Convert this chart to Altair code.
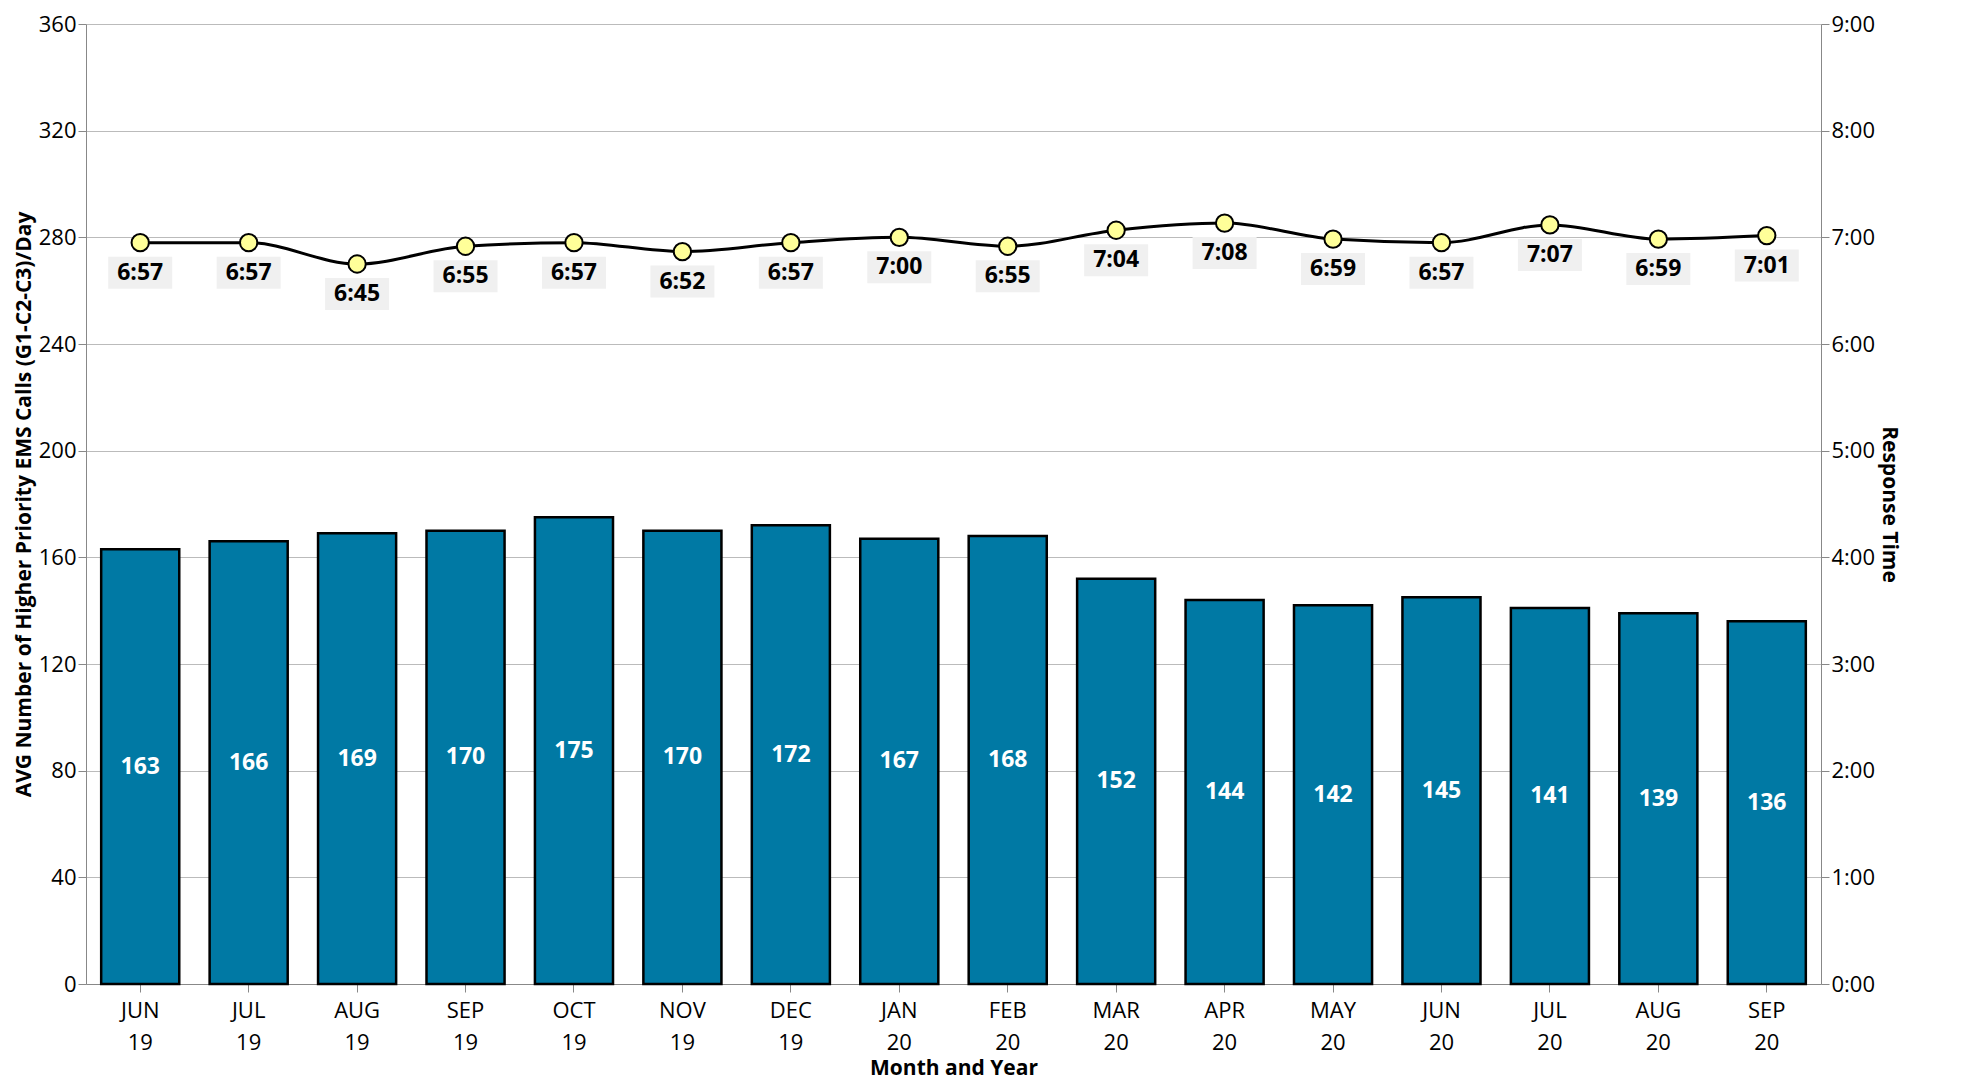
import altair as alt
import pandas as pd

months = ["JUN 19", "JUL 19", "AUG 19", "SEP 19", "OCT 19", "NOV 19", "DEC 19", "JAN 20",
          "FEB 20", "MAR 20", "APR 20", "MAY 20", "JUN 20", "JUL 20", "AUG 20", "SEP 20"]
calls = [163, 166, 169, 170, 175, 170, 172, 167, 168, 152, 144, 142, 145, 141, 139, 136]
resp_labels = ["6:57", "6:57", "6:45", "6:55", "6:57", "6:52", "6:57", "7:00",
               "6:55", "7:04", "7:08", "6:59", "6:57", "7:07", "6:59", "7:01"]

df = pd.DataFrame({"month": months, "calls": calls, "resp": resp_labels})
df["secs"] = [int(r.split(":")[0]) * 60 + int(r.split(":")[1]) for r in resp_labels]
df["bar_mid"] = df["calls"] / 2 - 0.0

FONT = "Open Sans"
x = alt.X("month:N", sort=months, title="Month and Year",
          scale=alt.Scale(paddingInner=0.28, paddingOuter=0.14),
          axis=alt.Axis(labelAngle=0, labelExpr="split(datum.label, ' ')", labelFontSize=22,
                        labelPadding=8, titleFontSize=21, titleFontWeight="bold",
                        titlePadding=4, tickSize=8, labelLineHeight=32, domainColor="#888",
                        tickColor="#888"))

left_axis = alt.Axis(values=list(range(0, 361, 40)), labelFontSize=22, titleFontSize=21,
                     titleFontWeight="bold", gridColor="#bbb", domainColor="#888",
                     tickColor="#888", tickSize=8)
left_title = "AVG Number of Higher Priority EMS Calls (G1-C2-C3)/Day"
ls = alt.Scale(domain=[0, 360])

right_axis = alt.Axis(orient="right", values=list(range(0, 541, 60)),
                      labelExpr="floor(datum.value/60) + ':00'", labelFontSize=22,
                      titleFontSize=21, titleFontWeight="bold", grid=False,
                      domainColor="#888", tickColor="#888", tickSize=8)
rs = alt.Scale(domain=[0, 540])

base = alt.Chart(df)

bars = base.mark_bar(color="#0079A4", stroke="black", strokeWidth=2.5).encode(
    x=x, y=alt.Y("calls:Q", scale=ls, title=left_title, axis=left_axis))
bar_text = base.mark_text(color="white", fontWeight="bold", fontSize=23, font=FONT).encode(
    x=x, y=alt.Y("bar_mid:Q", scale=ls, title=left_title, axis=left_axis), text="calls:Q")

left = alt.layer(bars, bar_text)

ry = alt.Y("secs:Q", scale=rs, title="Response Time", axis=right_axis)
line = base.mark_line(color="black", strokeWidth=3, interpolate="monotone").encode(x=x, y=ry)
pts = base.mark_point(filled=True, fill="#FFFF99", stroke="black", strokeWidth=2,
                      size=300, opacity=1).encode(x=x, y=ry)
boxes = base.mark_rect(color="#F0F0F0", width=64, height=32, yOffset=30).encode(x=x, y=ry)
lbls = base.mark_text(fontWeight="bold", fontSize=23, font=FONT, dy=30, color="black").encode(
    x=x, y=ry, text="resp:N")

right = alt.layer(line, boxes, lbls, pts)

chart = alt.layer(left, right).resolve_scale(y="independent").properties(
    width=1735, height=960
).configure_view(stroke=None).configure_axis(labelFont=FONT, titleFont=FONT,
                                             labelColor="black", titleColor="black")

chart.save("out.html", embed_options={"renderer": "svg", "actions": False})
